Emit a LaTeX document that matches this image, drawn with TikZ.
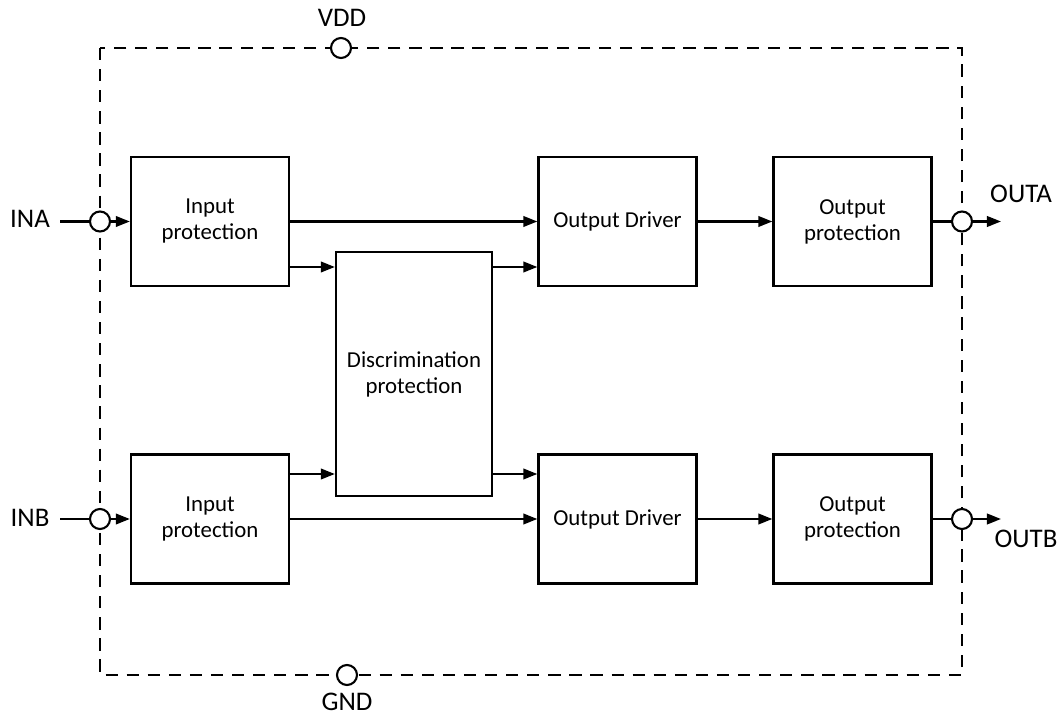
\documentclass[tikz,border=0pt]{standalone}
\usepackage{fontspec}
\setmainfont{Carlito}
\usetikzlibrary{arrows.meta,positioning}

\begin{document}
\begin{tikzpicture}[x=0.02cm,y=-0.02cm,
  box/.style={draw,line width=1.3pt,fill=white,font=\fontsize{13}{14.8}\selectfont,
    minimum width=3.16cm,minimum height=2.58cm,align=center,inner sep=0pt},
  pin/.style={circle,draw,line width=1.2pt,fill=white,minimum size=0.4cm,inner sep=0pt},
  lbl/.style={font=\fontsize{15.3}{18}\selectfont,inner sep=0pt},
  wire/.style={line width=1.2pt},
  arr/.style={line width=1.2pt,-{Triangle[length=8pt,width=6pt]}}
]
  \useasboundingbox (0,0) rectangle (1060,715);
  % Chip outline
  \draw[line width=1.2pt,dash pattern=on 7pt off 5pt] (100,48) rectangle (962,675);
  % Supply pins
  \node[pin] (vdd) at (341,48) {};
  \node[pin] (gnd) at (347,675) {};
  \node[lbl] at (342,18) {VDD};
  \node[lbl] at (347,702) {GND};
  % Blocks
  \node[box] (inA) at (210,221.5) {Input\\protection};
  \node[box] (drvA) at (617.5,221.5) {Output Driver};
  \node[box] (outpA) at (852.5,221.5) {Output\\protection};
  \node[box,minimum width=3.12cm,minimum height=4.88cm] (disc) at (414,374) {Discrimination\\protection};
  \node[box] (inB) at (210,519) {Input\\protection};
  \node[box] (drvB) at (617.5,519) {Output Driver};
  \node[box] (outpB) at (852.5,519) {Output\\protection};
  % Input pins
  \node[pin] (pinA) at (100,221.5) {};
  \node[pin] (pinB) at (100,519) {};
  \node[lbl] at (30,219) {INA};
  \node[lbl] at (30,518) {INB};
  \coordinate (ina) at (60,221.5);
  \coordinate (inb) at (60,519);
  \draw[wire] (ina) -- (pinA);
  \draw[wire] (inb) -- (pinB);
  \draw[arr] (pinA) -- (inA);
  \draw[arr] (pinB) -- (inB);
  % Signal paths
  \draw[arr] (inA) -- (drvA);
  \draw[arr] (inB) -- (drvB);
  \draw[arr] (inA.east |- 0,267) -- (disc.west |- 0,267);
  \draw[arr] (disc.east |- 0,267) -- (drvA.west |- 0,267);
  \draw[arr] (inB.east |- 0,474) -- (disc.west |- 0,474);
  \draw[arr] (disc.east |- 0,474) -- (drvB.west |- 0,474);
  \draw[arr] (drvA) -- (outpA);
  \draw[arr] (drvB) -- (outpB);
  % Output pins
  \node[pin] (pinOA) at (962,221.5) {};
  \node[pin] (pinOB) at (962,519) {};
  \coordinate (outa) at (1001,221.5);
  \coordinate (outb) at (1001,519);
  \draw[wire] (outpA) -- (pinOA);
  \draw[wire] (outpB) -- (pinOB);
  \draw[arr] (pinOA) -- (outa);
  \draw[arr] (pinOB) -- (outb);
  \node[lbl] at (1021,194) {OUTA};
  \node[lbl] at (1026,539) {OUTB};
\end{tikzpicture}
\end{document}
